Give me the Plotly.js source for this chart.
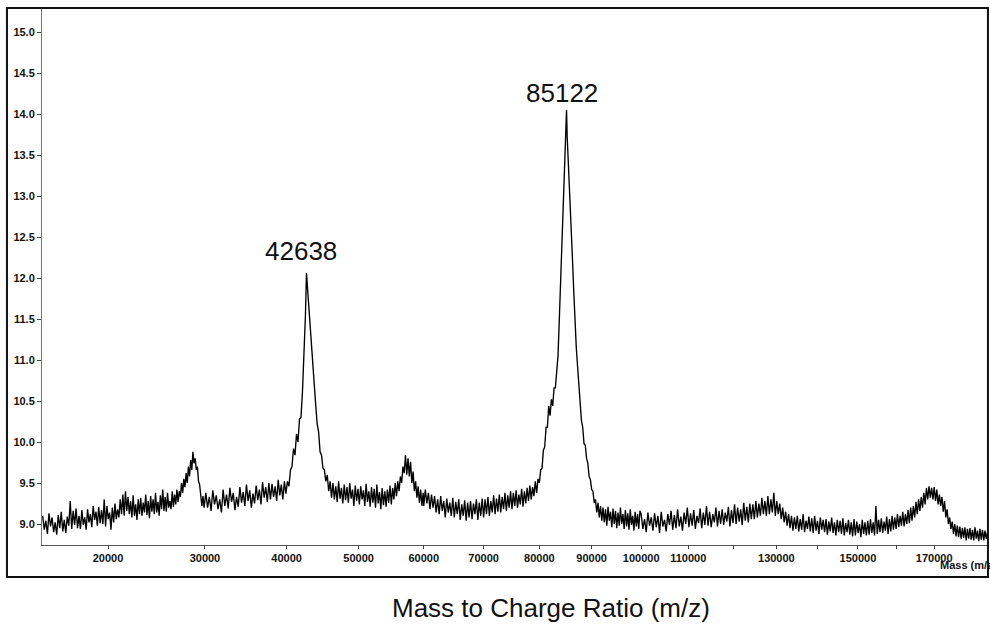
<!DOCTYPE html>
<html>
<head>
<meta charset="utf-8">
<script src="https://cdn.plot.ly/plotly-3.0.1.min.js"></script>
<style>html,body{margin:0;padding:0;background:#fff;}#chart{width:990px;height:626px;}</style>
</head>
<body>
<div id="chart"></div>
<script>
// Spectrum: mass (Da) and intensity, by region
const massLow = [14400,14525,14650,14775,14900,15025,15150,15275,15400,15525,
15650,15775,15900,16025,16150,16275,16400,16525,16650,16775,
16900,17025,17150,17275,17400,17525,17650,17775,17900,18025,
18150,18275,18400,18525,18650,18775,18900,19025,19150,19275,
19400,19525,19650,19775,19900,20025,20150,20275,20400,20525,
20650,20775,20900,21025,21150,21275,21400,21525,21650,21775,
21900,22025,22150,22275,22400,22525,22650,22775,22900,23025,
23150,23275,23400,23525,23650,23775,23900,24025,24150,24275,
24400,24525,24650,24775,24900,25025,25150,25275,25400,25525,
25650,25775,25900,26025,26150,26275,26400,26525,26650,26775,
26900,27025,27150,27275,27400,27525,27650,27775,27900,28025,
28150,28275,28400,28525,28650,28775,28900,29025,29150,29275,
29400,29525,29650,29775,29900];
const intLow = [9.10,8.93,9.04,8.88,9.13,8.97,9.08,8.90,9.02,8.87,
9.11,8.95,9.15,8.91,9.05,8.89,9.09,8.98,9.28,8.94,
9.16,8.99,9.19,8.95,9.10,8.94,9.17,8.99,9.08,8.93,
9.18,9.02,9.12,8.96,9.22,9.05,9.15,8.98,9.21,9.01,
9.17,9.00,9.30,8.97,9.22,9.06,9.14,8.93,9.20,9.02,
9.25,9.06,9.18,9.08,9.30,9.12,9.36,9.10,9.40,9.16,
9.33,9.12,9.28,9.08,9.35,9.10,9.24,9.05,9.30,9.12,
9.32,9.10,9.26,9.14,9.36,9.11,9.28,9.07,9.34,9.15,
9.30,9.12,9.38,9.14,9.27,9.10,9.35,9.18,9.42,9.16,
9.33,9.15,9.38,9.20,9.28,9.18,9.40,9.21,9.36,9.24,
9.42,9.27,9.40,9.33,9.50,9.38,9.55,9.45,9.62,9.50,
9.70,9.58,9.78,9.66,9.88,9.74,9.80,9.66,9.70,9.52,
9.48,9.30,9.22,9.34,9.20];

const massPeak1 = [30100,30300,30500,30700,30900,31100,31300,31500,31700,31900,
32100,32300,32500,32700,32900,33100,33300,33500,33700,33900,
34100,34300,34500,34700,34900,35100,35300,35500,35700,35900,
36100,36300,36500,36700,36900,37100,37300,37500,37700,37900,
38100,38300,38500,38700,38900,39100,39300,39500,39700,39900,
40100,40300,40500,40700,40900,41100,41300,41500,41700,41900,
42100,42300,42500,42638,42900,43100,43300,43500,43700,43900,
44100,44300,44500,44700,44900,45100,45300,45500,45700,45900,
46100,46300,46500,46700,46900,47100,47300,47500,47700,47900,
48100,48300,48500,48700,48900,49100,49300,49500,49700,49900,
50100,50300,50500,50700,50900,51100,51300,51500,51700,51900,
52100,52300,52500,52700,52900,53100,53300,53500,53700,53900,
54100,54300,54500,54700,54900,55100,55300,55500,55700,55900,
56100,56300,56500,56700,56900,57100,57300,57500,57700,57900,
58100,58300,58500,58700,58900,59100,59300,59500,59700,59900];
const intPeak1 = [9.38,9.20,9.33,9.16,9.41,9.24,9.35,9.18,9.30,9.14,
9.42,9.22,9.36,9.19,9.44,9.27,9.38,9.17,9.33,9.21,
9.45,9.26,9.39,9.22,9.48,9.28,9.41,9.20,9.37,9.25,
9.47,9.29,9.42,9.24,9.51,9.32,9.45,9.27,9.50,9.30,
9.49,9.33,9.46,9.28,9.54,9.35,9.48,9.30,9.52,9.37,
9.52,9.46,9.66,9.70,9.92,9.84,10.10,10.00,10.28,10.30,
10.62,11.05,11.55,12.06,11.72,11.50,11.15,10.98,10.60,10.45,
10.22,10.12,9.88,9.84,9.68,9.66,9.52,9.60,9.40,9.52,
9.32,9.50,9.30,9.46,9.27,9.52,9.31,9.44,9.25,9.48,
9.29,9.45,9.26,9.50,9.31,9.42,9.22,9.47,9.28,9.43,
9.24,9.46,9.30,9.41,9.22,9.49,9.27,9.40,9.21,9.45,
9.26,9.43,9.20,9.48,9.25,9.39,9.18,9.44,9.23,9.40,
9.21,9.42,9.26,9.47,9.24,9.44,9.30,9.50,9.34,9.52,
9.40,9.58,9.50,9.70,9.62,9.84,9.60,9.80,9.58,9.76,
9.50,9.64,9.40,9.52,9.32,9.46,9.26,9.42,9.22,9.38];

const massPeak2 = [60000,60250,60500,60750,61000,61250,61500,61750,62000,62250,
62500,62750,63000,63250,63500,63750,64000,64250,64500,64750,
65000,65250,65500,65750,66000,66250,66500,66750,67000,67250,
67500,67750,68000,68250,68500,68750,69000,69250,69500,69750,
70000,70250,70500,70750,71000,71250,71500,71750,72000,72250,
72500,72750,73000,73250,73500,73750,74000,74250,74500,74750,
75000,75250,75500,75750,76000,76250,76500,76750,77000,77250,
77500,77750,78000,78250,78500,78750,79000,79250,79500,79750,
80000,80250,80500,80750,81000,81250,81500,81750,82000,82250,
82500,82750,83000,83250,83500,83750,84000,84250,84500,84750,
85000,85122,85250,85500,85750,86000,86250,86500,86750,87000,
87250,87500,87750,88000,88250,88500,88750,89000,89250,89500,
89750,90000,90250,90500,90750,91000,91250,91500,91750,92000,
92250,92500,92750,93000,93250,93500,93750,94000,94250,94500,
94750,95000,95250,95500,95750,96000,96250,96500,96750,97000,
97250,97500,97750,98000,98250,98500,98750,99000,99250,99500,99750];
const intPeak2 = [9.22,9.42,9.25,9.38,9.18,9.36,9.20,9.34,9.14,9.30,
9.12,9.34,9.16,9.28,9.08,9.31,9.14,9.26,9.10,9.32,
9.08,9.27,9.12,9.30,9.05,9.24,9.10,9.29,9.04,9.26,
9.08,9.28,9.06,9.25,9.12,9.30,9.05,9.26,9.10,9.31,
9.08,9.30,9.12,9.33,9.10,9.28,9.14,9.35,9.12,9.31,
9.15,9.36,9.14,9.33,9.18,9.38,9.16,9.35,9.20,9.40,
9.18,9.38,9.22,9.41,9.20,9.36,9.24,9.43,9.21,9.40,
9.25,9.44,9.28,9.47,9.30,9.45,9.34,9.52,9.38,9.55,
9.50,9.66,9.68,9.90,9.94,10.18,10.18,10.44,10.32,10.52,
10.44,10.66,10.66,10.88,11.05,11.50,12.00,12.50,13.00,13.50,
13.85,14.05,13.72,13.30,12.85,12.55,12.25,11.85,11.45,11.15,
10.92,10.68,10.52,10.26,10.18,9.98,9.96,9.80,9.74,9.58,
9.54,9.42,9.40,9.26,9.30,9.14,9.26,9.08,9.22,9.04,
9.20,9.02,9.18,8.98,9.21,9.04,9.15,8.96,9.19,9.00,
9.16,8.95,9.14,8.98,9.20,9.00,9.12,8.94,9.17,8.97,
9.13,8.93,9.18,8.99,9.10,8.92,9.15,8.97,9.12,8.94,9.16];

const massHigh = [100000,100350,100700,101050,101400,101750,102100,102450,102800,103150,
103500,103850,104200,104550,104900,105250,105600,105950,106300,106650,
107000,107350,107700,108050,108400,108750,109100,109450,109800,110150,
110500,110850,111200,111550,111900,112250,112600,112950,113300,113650,
114000,114350,114700,115050,115400,115750,116100,116450,116800,117150,
117500,117850,118200,118550,118900,119250,119600,119950,120300,120650,
121000,121350,121700,122050,122400,122750,123100,123450,123800,124150,
124500,124850,125200,125550,125900,126250,126600,126950,127300,127650,
128000,128350,128700,129050,129400,129750,130100,130450,130800,131150,
131500,131850,132200,132550,132900,133250,133600,133950,134300,134650,
135000,135350,135700,136050,136400,136750,137100,137450,137800,138150,
138500,138850,139200,139550,139900,140250,140600,140950,141300,141650,
142000,142350,142700,143050,143400,143750,144100,144450,144800,145150,
145500,145850,146200,146550,146900,147250,147600,147950,148300,148650,
149000,149350,149700,150050,150400,150750,151100,151450,151800,152150,
152500,152850,153200,153550,153900,154250,154600,154950,155300,155650,
156000,156350,156700,157050,157400,157750,158100,158450,158800,159150,
159500,159850,160200,160550,160900,161250,161600,161950,162300,162650,
163000,163350,163700,164050,164400,164750,165100,165450,165800,166150,
166500,166850,167200,167550,167900,168250,168600,168950,169300,169650,
170000,170350,170700,171050,171400,171750,172100,172450,172800,173150,
173500,173850,174200,174550,174900,175250,175600,175950,176300,176650,
177000,177350,177700,178050,178400,178750,179100,179450,179800,180150,
180500,180850,181200,181550,181900,182250,182600,182950,183300,183650,
184000,184350,184700];
const intHigh = [9.12,8.94,9.06,8.90,9.14,8.98,9.08,8.92,9.13,8.96,
9.10,8.89,9.15,8.97,9.05,8.91,9.12,8.99,9.16,8.93,
9.11,8.95,9.18,8.97,9.09,8.92,9.14,9.00,9.20,8.96,
9.13,8.98,9.17,8.94,9.10,9.01,9.19,8.95,9.14,8.99,
9.22,8.98,9.15,8.96,9.12,9.02,9.20,8.97,9.16,9.00,
9.18,8.99,9.14,9.03,9.21,8.97,9.17,9.01,9.24,9.00,
9.20,9.03,9.18,8.99,9.26,9.04,9.21,9.02,9.25,9.06,
9.24,9.06,9.28,9.08,9.25,9.10,9.32,9.12,9.28,9.10,
9.34,9.12,9.30,9.14,9.38,9.10,9.28,9.12,9.25,9.06,
9.20,9.02,9.15,8.98,9.12,8.95,9.10,8.92,9.08,8.94,
9.10,8.91,9.06,8.93,9.12,8.90,9.04,8.94,9.09,8.91,
9.07,8.89,9.10,8.92,9.04,8.88,9.08,8.93,9.05,8.90,
9.06,8.87,9.03,8.91,9.08,8.89,9.02,8.86,9.05,8.90,
9.04,8.88,9.07,8.86,9.01,8.90,9.05,8.87,9.02,8.85,
9.06,8.86,9.03,8.89,9.00,8.84,9.05,8.88,9.02,8.86,
9.04,8.87,9.06,8.89,9.02,8.86,9.22,8.88,9.05,8.90,
9.07,8.89,9.03,8.92,9.09,8.88,9.06,8.91,9.10,8.93,
9.08,8.94,9.12,8.96,9.10,8.98,9.15,8.97,9.12,9.00,
9.17,9.01,9.20,9.04,9.22,9.08,9.27,9.12,9.30,9.16,
9.33,9.20,9.38,9.24,9.44,9.30,9.46,9.32,9.44,9.30,
9.45,9.28,9.42,9.24,9.36,9.22,9.33,9.15,9.28,9.08,
9.18,9.00,9.08,8.94,9.03,8.88,9.00,8.85,8.98,8.84,
8.97,8.82,8.95,8.83,8.96,8.80,8.94,8.82,8.95,8.81,
8.93,8.80,8.96,8.82,8.92,8.79,8.94,8.81,8.93,8.80,
8.92,8.82,8.90];

// Axis ticks (masses) and their labels
const tickMasses = [20000,30000,40000,50000,60000,70000,80000,90000,100000,110000,120000,130000,140000,150000,160000,170000];
const tickLabels = ['20000','30000','40000','50000','60000','70000','80000','90000','100000','110000','','130000','','150000','','170000'];
const peakMasses = [42638, 85122];
const peakLabels = ['42638', '85122'];
const peakLabelY = [12.33, 14.26];

// time-of-flight style axis: position proportional to sqrt(mass)
const toAxis = m => Math.sqrt(m);

const mass = massLow.concat(massPeak1, massPeak2, massHigh);
const inten = intLow.concat(intPeak1, intPeak2, intHigh);

const FONT = 'Liberation Sans, Arial, Helvetica, sans-serif';

const trace = {
  x: mass.map(toAxis),
  y: inten,
  type: 'scatter',
  mode: 'lines',
  line: {color: '#000', width: 1.35},
  hoverinfo: 'skip'
};

const annotations = peakMasses.map((m, i) => ({
  x: toAxis(m), y: peakLabelY[i], xref: 'x', yref: 'y',
  text: peakLabels[i], showarrow: false, xshift: -5,
  font: {family: FONT, size: 26, color: '#111'},
  xanchor: 'center', yanchor: 'middle'
}));
annotations.push({
  x: 0.946, y: -0.038, xref: 'paper', yref: 'paper',
  text: '<b>Mass (m/z</b>', showarrow: false, xanchor: 'left', yanchor: 'middle',
  font: {family: FONT, size: 11, color: '#111'}
});
annotations.push({
  x: 0.538, y: -0.117, xref: 'paper', yref: 'paper',
  text: 'Mass to Charge Ratio (m/z)', showarrow: false, xanchor: 'center', yanchor: 'middle',
  font: {family: FONT, size: 26, color: '#111'}
});

const layout = {
  width: 990, height: 626,
  margin: {l: 42, r: 1, t: 8, b: 81},
  paper_bgcolor: '#fff', plot_bgcolor: '#fff',
  showlegend: false,
  xaxis: {
    range: [119.78, 430.27],
    tickvals: tickMasses.map(toAxis),
    ticktext: tickLabels.map(t => t ? '<b>' + t + '</b>' : ''),
    ticks: 'outside', ticklen: 3, tickcolor: '#444',
    showline: true, linecolor: '#555', linewidth: 1,
    showgrid: false, zeroline: false,
    tickfont: {family: FONT, size: 11, color: '#111'}
  },
  yaxis: {
    range: [8.744, 15.293],
    tick0: 9, dtick: 0.5, tickformat: '.1f',
    ticks: 'outside', ticklen: 4, tickcolor: '#444',
    showline: true, linecolor: '#777', linewidth: 1,
    showgrid: false, zeroline: false,
    tickfont: {family: FONT, size: 11, color: '#111', weight: 'bold'}
  },
  shapes: [{
    type: 'rect', xref: 'paper', yref: 'paper',
    x0: -0.0370, x1: 0.9989, y0: -0.0596, y1: 1.0,
    line: {color: '#111', width: 2}, fillcolor: 'rgba(0,0,0,0)'
  }],
  annotations: annotations
};

Plotly.newPlot('chart', [trace], layout, {staticPlot: true, displayModeBar: false});
</script>
</body>
</html>
